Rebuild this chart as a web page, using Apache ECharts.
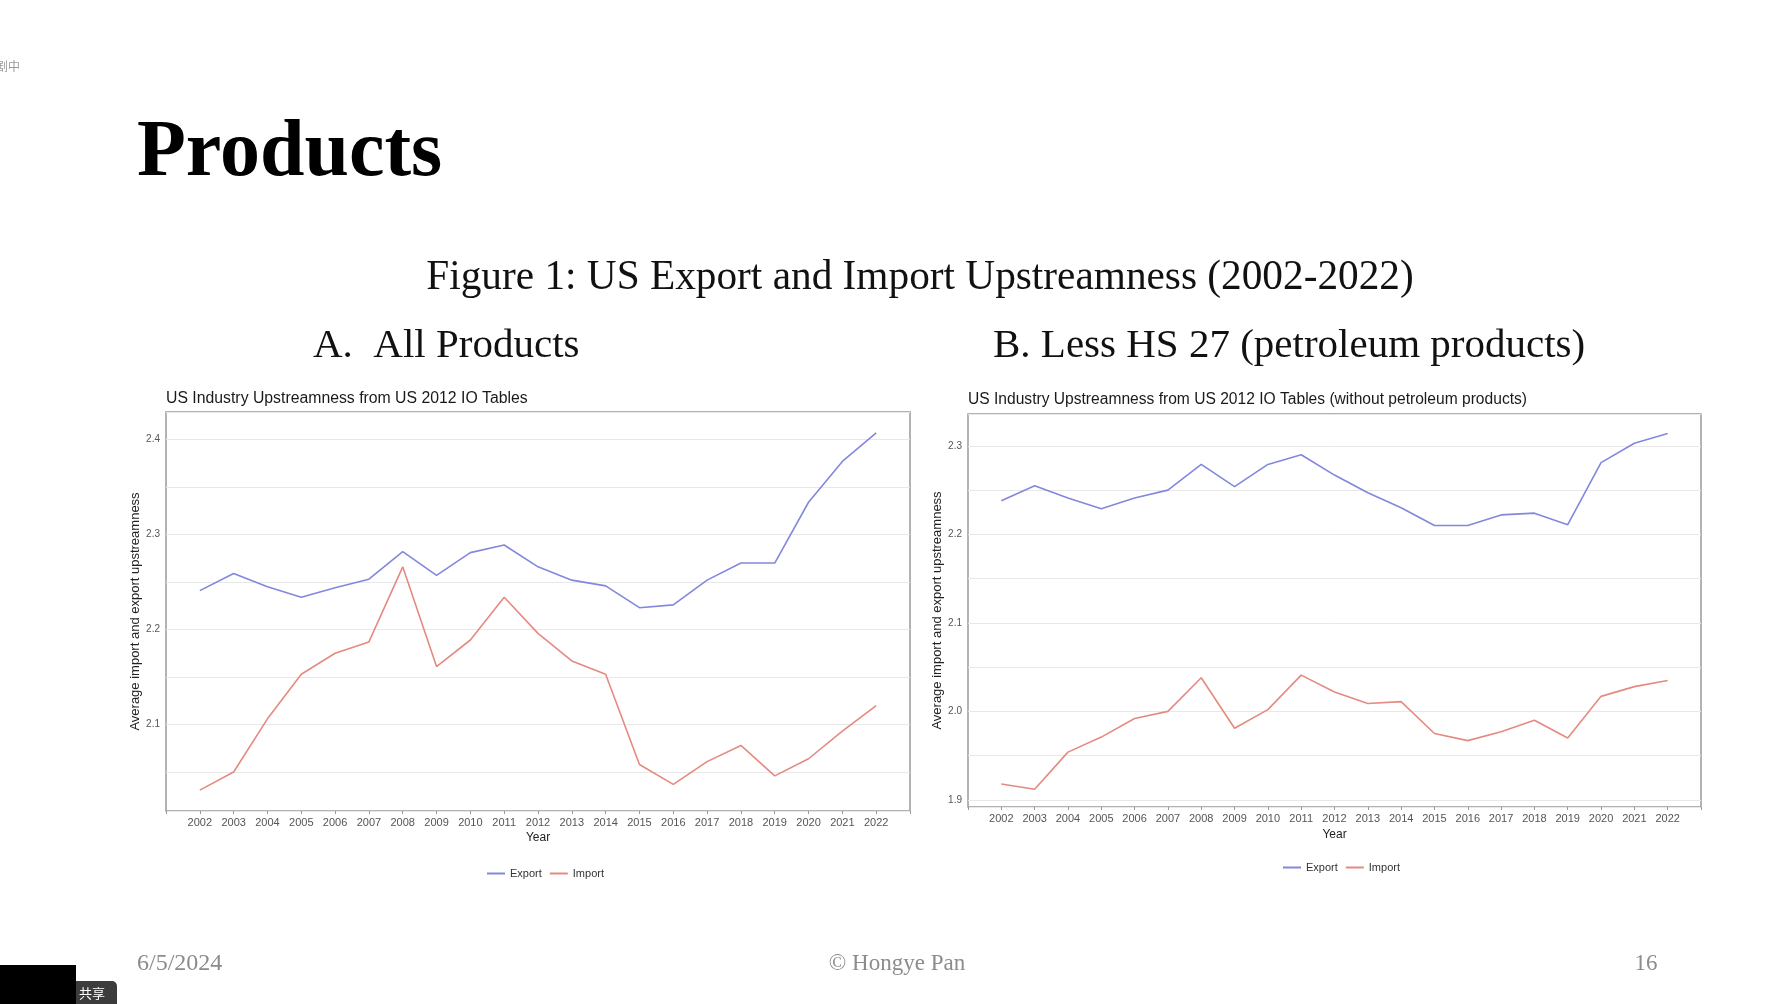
<!DOCTYPE html>
<html>
<head>
<meta charset="utf-8">
<script src="https://cdn.jsdelivr.net/npm/echarts@6/dist/echarts.min.js"></script>
<style>
html,body{margin:0;padding:0;background:#fff;}
#main{width:1784px;height:1004px;}
</style>
</head>
<body>
<div id="main"></div>
<script>
// ---- data ----
const years = [2002,2003,2004,2005,2006,2007,2008,2009,2010,2011,2012,2013,2014,2015,2016,2017,2018,2019,2020,2021,2022];

// Panel A: All Products
const exportAll = [2.241,2.259,2.245,2.234,2.244,2.253,2.282,2.257,2.281,2.289,2.266,2.252,2.246,2.223,2.226,2.252,2.270,2.270,2.334,2.377,2.407];
const importAll = [2.031,2.050,2.106,2.153,2.175,2.187,2.266,2.161,2.189,2.234,2.196,2.167,2.153,2.058,2.037,2.061,2.078,2.046,2.064,2.093,2.120];

// Panel B: Less HS 27 (petroleum products)
const exportNoPet = [2.238,2.255,2.241,2.229,2.241,2.250,2.279,2.254,2.279,2.290,2.267,2.247,2.230,2.210,2.210,2.222,2.224,2.211,2.281,2.303,2.314];
const importNoPet = [1.918,1.912,1.954,1.971,1.992,2.000,2.038,1.981,2.002,2.041,2.022,2.009,2.011,1.975,1.967,1.977,1.990,1.970,2.017,2.028,2.035];

// tick labels
const yTicksA = [2.1,2.2,2.3,2.4];
const yTicksB = [1.9,2.0,2.1,2.2,2.3];
const seriesNames = ['Export','Import'];

// ---- styling ----
const C_EXP = '#8288dc';
const C_IMP = '#e58a80';
const SANS = '"Liberation Sans", Arial, sans-serif';
const SERIF = '"Liberation Serif", "Times New Roman", serif';

function pairs(arr){ return years.map((y,i)=>[y, arr[i]]); }

function yLabelFmt(ticks){
  return function(v){
    for (const t of ticks){ if (Math.abs(v - t) < 1e-6) return t.toFixed(1); }
    return '';
  };
}

function xAxisCfg(gi){
  return {
    type:'value', gridIndex:gi, min:2001, max:2023, interval:1,
    name:'Year', nameLocation:'middle', nameGap:gi===0?21:22,
    nameTextStyle:{fontFamily:SANS, fontSize:12, color:'#222'},
    axisLine:{show:false},
    axisTick:{show:true, length:3, lineStyle:{color:'#999'}},
    axisLabel:{margin:6, fontFamily:SANS, fontSize:11, color:'#555',
      formatter:v => (v>=years[0] && v<=years[years.length-1]) ? String(v) : ''},
    splitLine:{show:false}
  };
}

function yAxisCfg(gi, min, max, ticks){
  return {
    type:'value', gridIndex:gi, min:min, max:max,
    splitNumber:8, minInterval:0.05, maxInterval:0.05,
    name:'Average import and export upstreamness', nameLocation:'middle', nameGap:21, nameRotate:90,
    nameTextStyle:{fontFamily:SANS, fontSize:13, color:'#222'},
    axisLine:{show:false},
    axisTick:{show:false},
    axisLabel:{margin:6, fontFamily:SANS, fontSize:10, color:'#555', showMinLabel:false, showMaxLabel:false,
      formatter:yLabelFmt(ticks)},
    splitLine:{show:true, lineStyle:{color:'#e8e8e8', width:1}}
  };
}

function lineSeries(name, gi, arr, color){
  return {
    type:'line', name:name, xAxisIndex:gi, yAxisIndex:gi,
    data:pairs(arr), showSymbol:false, symbol:'none',
    lineStyle:{color:color, width:1.6}, itemStyle:{color:color},
    animation:false, silent:true
  };
}

const chart = echarts.init(document.getElementById('main'), null, {renderer:'canvas'});

const option = {
  backgroundColor:'#ffffff',
  animation:false,
  title:[
    {text:'US Industry Upstreamness from US 2012 IO Tables', left:166, top:391, padding:0,
      textStyle:{fontFamily:SANS, fontSize:15.8, fontWeight:'normal', color:'#1a1a1a'}},
    {text:'US Industry Upstreamness from US 2012 IO Tables (without petroleum products)', left:968, top:392, padding:0,
      textStyle:{fontFamily:SANS, fontSize:15.6, fontWeight:'normal', color:'#1a1a1a'}}
  ],
  legend:[
    {left:482, top:863, data:seriesNames, icon:'rect', itemWidth:18, itemHeight:2, itemGap:8,
      textStyle:{fontFamily:SANS, fontSize:11, color:'#333'}},
    {left:1278, top:857, data:seriesNames, icon:'rect', itemWidth:18, itemHeight:2, itemGap:8,
      textStyle:{fontFamily:SANS, fontSize:11, color:'#333'}}
  ],
  grid:[
    {left:166, top:412, width:744, height:399, show:true, borderColor:'#9a9a9a', borderWidth:1.5, backgroundColor:'#fff', containLabel:false},
    {left:968, top:414, width:733, height:393, show:true, borderColor:'#9a9a9a', borderWidth:1.5, backgroundColor:'#fff', containLabel:false}
  ],
  xAxis:[xAxisCfg(0), xAxisCfg(1)],
  yAxis:[yAxisCfg(0, 2.009, 2.429, yTicksA), yAxisCfg(1, 1.892, 2.336, yTicksB)],
  series:[
    lineSeries(seriesNames[0], 0, exportAll, C_EXP),
    lineSeries(seriesNames[1], 0, importAll, C_IMP),
    lineSeries(seriesNames[0], 1, exportNoPet, C_EXP),
    lineSeries(seriesNames[1], 1, importNoPet, C_IMP)
  ],
  graphic:[
    {type:'text', left:137, top:114, style:{text:'Products', font:'bold 80px '+SERIF, fill:'#000'}},
    {type:'text', x:920, y:278, style:{text:'Figure 1: US Export and Import Upstreamness (2002-2022)', font:'41.3px '+SERIF, fill:'#111', align:'center', verticalAlign:'middle'}},
    {type:'text', x:313, y:346, style:{text:'A.  All Products', font:'41px '+SERIF, fill:'#111', align:'left', verticalAlign:'middle'}},
    {type:'text', x:993, y:346, style:{text:'B. Less HS 27 (petroleum products)', font:'41px '+SERIF, fill:'#111', align:'left', verticalAlign:'middle'}},
    {type:'text', x:137, y:964, style:{text:'6/5/2024', font:'24px '+SERIF, fill:'#8c8c8c', align:'left', verticalAlign:'middle'}},
    {type:'text', x:897, y:964, style:{text:'© Hongye Pan', font:'23px '+SERIF, fill:'#8c8c8c', align:'center', verticalAlign:'middle'}},
    {type:'text', x:1646, y:964, style:{text:'16', font:'23px '+SERIF, fill:'#8c8c8c', align:'center', verticalAlign:'middle'}},
    {type:'text', x:-4, y:66, style:{text:'剧中', font:'12px "Noto Sans CJK SC", sans-serif', fill:'#9a9a9a', align:'left', verticalAlign:'middle'}},
    {type:'rect', shape:{x:0, y:965, width:76, height:39}, style:{fill:'#000'}},
    {type:'rect', shape:{x:76, y:981, width:41, height:23, r:[0,5,0,0]}, style:{fill:'#3c3c3c'}},
    {type:'text', x:92, y:993, style:{text:'共享', font:'13px "Noto Sans CJK SC", sans-serif', fill:'#fff', align:'center', verticalAlign:'middle'}}
  ]
};
chart.setOption(option);
</script>
</body>
</html>
